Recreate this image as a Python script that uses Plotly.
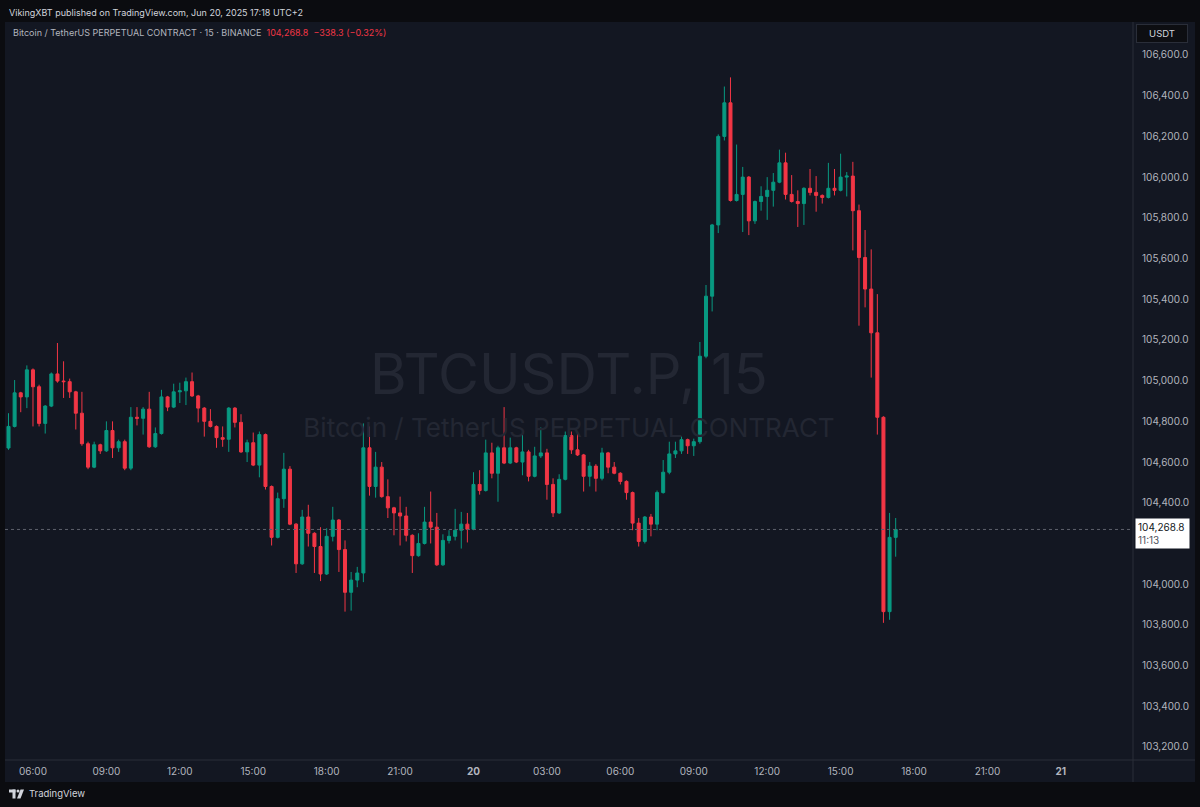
import plotly.graph_objects as go
import pandas as pd

# ---------------- data (BTCUSDT.P, 15m, Binance) ----------------
start_time = "2025-06-19 05:00"
opens = [104669,104775,104940,104920,105053,104970,104790,104875,105033,104998,
         104995,104945,104840,104690,104575,104685,104655,104755,104670,104700,
         104570,104820,104815,104860,104675,104740,104920,104870,104945,104950,
         104995,104925,104865,104800,104775,104720,104712,104865,104795,104650,
         104695,104585,104735,104480,104230,104420,104565,104295,104100,104330,
         104250,104185,104050,104235,104315,104170,103960,104020,104055,104670,
         104480,104575,104430,104375,104350,104335,104240,104140,104200,104305,
         104280,104095,104215,104235,104265,104295,104270,104490,104460,104645,
         104545,104670,104595,104670,104600,104650,104530,104630,104645,104490,
         104350,104515,104730,104660,104635,104530,104580,104520,104645,104575,
         104545,104505,104450,104300,104210,104330,104295,104450,104550,104640,
         104655,104710,104680,104700,105120,105415,105765,106200,106365,105885,
         105915,106000,105785,105880,105905,105935,105975,106070,105915,105880,
         105870,105945,105925,105910,105900,105945,105935,106000,106005,105835,
         105605,105450,105235,104820,103865,104230]
highs = [104840,105003,104945,105075,105060,104980,104880,105040,105185,105095,
         105010,104950,104945,104700,104700,104690,104800,104800,104710,104710,
         104870,104870,104870,104945,104770,104955,104925,104985,104990,105015,
         105040,104930,104870,104860,104780,104775,104870,104870,104835,104710,
         104745,104750,104740,104485,104450,104645,104580,104300,104365,104390,
         104255,104280,104275,104380,104320,104215,104060,104085,104790,104775,
         104650,104600,104515,104380,104430,104380,104245,104250,104380,104455,
         104350,104245,104265,104370,104355,104350,104550,104560,104710,104695,
         104680,104870,104720,104675,104760,104660,104675,104770,104665,104520,
         104540,104750,104750,104740,104640,104600,104590,104670,104650,104600,
         104550,104510,104455,104325,104335,104345,104460,104610,104700,104700,
         104725,104715,104715,105190,105470,105770,106210,106445,106490,106160,
         106050,106005,105885,105955,106000,106020,106135,106120,106010,105935,
         105950,106040,106005,105915,106070,106040,106115,106025,106075,105865,
         105740,105645,105425,104825,104350,104325]
lows = [104660,104770,104845,104865,104775,104775,104740,104870,104990,104915,
        104915,104760,104680,104565,104570,104640,104650,104620,104650,104560,
        104560,104780,104735,104670,104670,104735,104850,104865,104890,104880,
        104920,104795,104725,104770,104670,104675,104650,104770,104645,104600,
        104580,104525,104465,104190,104225,104375,104290,104055,104095,104185,
        104055,104015,104045,104210,104060,103865,103870,103985,104010,104435,
        104425,104425,104325,104240,104190,104210,104055,104135,104195,104200,
        104090,104090,104200,104215,104175,104205,104265,104440,104455,104520,
        104405,104590,104590,104595,104535,104505,104525,104620,104415,104330,
        104345,104510,104640,104630,104455,104480,104455,104510,104545,104540,
        104490,104415,104265,104185,104200,104235,104265,104445,104540,104620,
        104640,104640,104630,104690,105110,105340,105725,106180,105880,105880,
        105730,105715,105770,105835,105790,105855,105970,105890,105875,105755,
        105765,105910,105830,105870,105895,105910,105930,105905,105640,105270,
        105360,105015,104735,103810,103825,104135]
closes = [104775,104940,104920,105053,104970,104790,104875,105033,104998,104995,
          104945,104840,104690,104575,104685,104655,104755,104670,104700,104570,
          104820,104815,104860,104675,104740,104920,104870,104945,104950,104995,
          104925,104865,104800,104775,104720,104712,104865,104795,104650,104695,
          104585,104735,104480,104230,104420,104565,104295,104100,104330,104250,
          104185,104050,104235,104315,104170,103960,104020,104055,104670,104480,
          104575,104430,104375,104350,104335,104240,104140,104200,104305,104280,
          104095,104215,104235,104265,104295,104270,104490,104460,104645,104545,
          104670,104595,104670,104600,104650,104530,104630,104645,104490,104350,
          104515,104730,104660,104635,104530,104580,104520,104645,104575,104545,
          104505,104450,104300,104210,104330,104295,104450,104550,104640,104655,
          104710,104680,104700,105120,105415,105765,106200,106365,105885,105915,
          106000,105785,105880,105905,105935,105975,106070,105915,105880,105870,
          105945,105925,105910,105900,105945,105935,106000,106005,105835,105605,
          105450,105235,104820,103865,104230,104268.8]

times = pd.date_range(start_time, periods=len(closes), freq="15min")

tick_times = ["2025-06-19 06:00", "2025-06-19 09:00", "2025-06-19 12:00",
              "2025-06-19 15:00", "2025-06-19 18:00", "2025-06-19 21:00",
              "2025-06-20 00:00", "2025-06-20 03:00", "2025-06-20 06:00",
              "2025-06-20 09:00", "2025-06-20 12:00", "2025-06-20 15:00",
              "2025-06-20 18:00", "2025-06-20 21:00", "2025-06-21 00:00"]
tick_labels = ["06:00", "09:00", "12:00", "15:00", "18:00", "21:00", "<b>20</b>",
               "03:00", "06:00", "09:00", "12:00", "15:00", "18:00", "21:00",
               "<b>21</b>"]
price_ticks = list(range(103200, 106601, 200))

# ---------------- layout constants ----------------
FW, FH = 1200, 807
ML, MR, MT, MB = 5, 67, 22, 47
PW, PH = FW - ML - MR, FH - MT - MB
X_RANGE = [pd.Timestamp("2025-06-19 04:51:25"), pd.Timestamp("2025-06-21 02:56:48")]
Y_RANGE = [103136.1, 106762.1]

FRAME = "#0b0c10"
PANEL = "#131722"
SEP = "#2a2e39"
TXT = "#b2b5be"
UP = "#089981"
DOWN = "#f23645"
FONT = "Inter, Roboto, sans-serif"


def px(x):
    return (x - ML) / PW


def py(y):
    return 1 - (y - MT) / PH


def price_at(y):
    return Y_RANGE[1] - (y - MT) / PH * (Y_RANGE[1] - Y_RANGE[0])


# the last-price label hides the axis tick right under it
shown_ticks = [t for t in price_ticks if abs(t - closes[-1]) > 90]

x_mid = X_RANGE[0] + (X_RANGE[1] - X_RANGE[0]) / 2

fig = go.Figure()

# watermark (behind candles)
fig.add_trace(go.Scatter(
    x=[x_mid, x_mid], y=[price_at(380), price_at(430)], mode="text",
    text=["BTCUSDT.P, 15", "Bitcoin / TetherUS PERPETUAL CONTRACT"],
    textfont=dict(size=[56, 26], color="#232733", family=FONT),
    hoverinfo="skip", showlegend=False, cliponaxis=False))

fig.add_trace(go.Candlestick(
    x=times, open=opens, high=highs, low=lows, close=closes,
    increasing=dict(line=dict(color=UP, width=1), fillcolor=UP),
    decreasing=dict(line=dict(color=DOWN, width=1), fillcolor=DOWN),
    whiskerwidth=0, showlegend=False, hoverinfo="skip"))

shapes = [
    # chart panel
    dict(type="rect", xref="paper", yref="paper", x0=px(5), x1=px(1195),
         y0=py(782), y1=py(22), fillcolor=PANEL, line=dict(width=0), layer="below"),
    # separators
    dict(type="line", xref="paper", yref="paper", x0=px(1133), x1=px(1133),
         y0=py(782), y1=py(22), line=dict(color=SEP, width=1)),
    dict(type="line", xref="paper", yref="paper", x0=px(5), x1=px(1195),
         y0=py(760), y1=py(760), line=dict(color=SEP, width=1)),
    # last price dotted line
    dict(type="line", xref="paper", yref="y", x0=0, x1=1,
         y0=closes[-1], y1=closes[-1], line=dict(color="#5d606b", width=1, dash="dot")),
    # TradingView logo (approximation)
    dict(type="rect", xref="paper", yref="paper", x0=px(9), x1=px(15.5),
         y0=py(792.5), y1=py(789.5), fillcolor="#d1d4dc", line=dict(width=0)),
    dict(type="rect", xref="paper", yref="paper", x0=px(12.5), x1=px(15.5),
         y0=py(798.5), y1=py(789.5), fillcolor="#d1d4dc", line=dict(width=0)),
    dict(type="circle", xref="paper", yref="paper", x0=px(16.5), x1=px(19.5),
         y0=py(792.5), y1=py(789.5), fillcolor="#d1d4dc", line=dict(width=0)),
    dict(type="path", xref="paper", yref="paper",
         path=f"M {px(20.5)} {py(789.5)} L {px(24)} {py(789.5)} L {px(20.5)} {py(798.5)} "
              f"L {px(17)} {py(798.5)} Z",
         fillcolor="#d1d4dc", line=dict(width=0)),
]

annotations = [
    dict(xref="paper", yref="paper", x=px(7), y=py(12), xanchor="left", yanchor="middle",
         text="VikingXBT published on TradingView.com, Jun 20, 2025 17:18 UTC+2",
         showarrow=False, font=dict(size=9, color="#d1d4dc", family=FONT)),
    dict(xref="paper", yref="paper", x=px(11), y=py(32.5), xanchor="left", yanchor="middle",
         text="Bitcoin / TetherUS PERPETUAL CONTRACT · 15 · BINANCE  "
              f"<span style='color:{DOWN}'>{closes[-1]:,.1f}  −338.3 (−0.32%)</span>",
         showarrow=False, font=dict(size=9, color=TXT, family=FONT)),
    dict(xref="paper", yref="paper", x=px(1162), y=py(33), xanchor="center", yanchor="middle",
         text="USDT", showarrow=False, font=dict(size=9.5, color="#d1d4dc", family=FONT),
         bgcolor="#0d0e12", bordercolor=SEP, borderwidth=1, borderpad=3, width=44),
    dict(xref="paper", yref="y", x=px(1135), y=closes[-1], xanchor="left", yanchor="middle",
         yshift=-4, align="left",
         text=f"{closes[-1]:,.1f}<br><span style='color:#50535e'>11:13</span>",
         showarrow=False, font=dict(size=10, color="#131722", family=FONT),
         bgcolor="#ffffff", borderpad=2, width=49),
    dict(xref="paper", yref="paper", x=px(27), y=py(794), xanchor="left", yanchor="middle",
         text="TradingView", showarrow=False,
         font=dict(size=9.5, color="#d1d4dc", family=FONT)),
]

fig.update_layout(
    width=FW, height=FH,
    margin=dict(l=ML, r=MR, t=MT, b=MB),
    paper_bgcolor=FRAME, plot_bgcolor=PANEL,
    font=dict(family=FONT, color=TXT, size=10),
    showlegend=False, boxgap=0.3, hovermode=False,
    shapes=shapes, annotations=annotations,
    xaxis=dict(range=X_RANGE, type="date", rangeslider=dict(visible=False),
               tickvals=tick_times, ticktext=tick_labels, showgrid=False,
               zeroline=False, showline=False, ticks="", ticklabelstandoff=4,
               tickfont=dict(size=10, color=TXT)),
    yaxis=dict(range=Y_RANGE, side="right", tickvals=shown_ticks,
               tickformat=",.1f", showgrid=False, zeroline=False, showline=False,
               ticks="", ticklabelstandoff=8, tickfont=dict(size=10, color=TXT)),
)

# remove the browser's default 8px page margin so the figure fills the window exactly
fig.write_html("out.html", config={"displayModeBar": False},
               post_script="document.body.style.margin='0';document.body.style.background='%s';" % FRAME)
